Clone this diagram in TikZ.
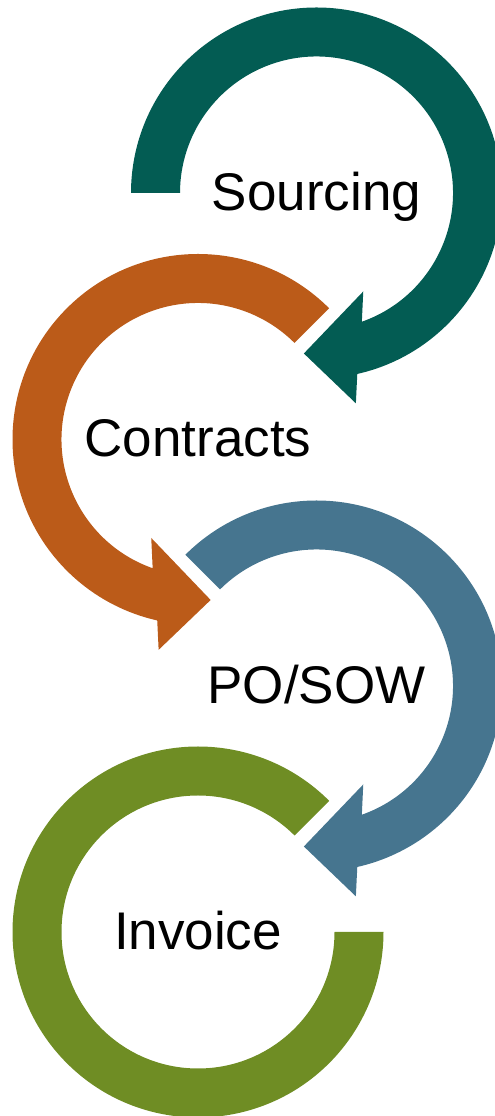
\documentclass[tikz,border=0pt]{standalone}
\usepackage{fontspec}
\setmainfont{Liberation Sans}
\usepackage{tikz}
\definecolor{sourcingcol}{RGB}{3,92,83}
\definecolor{contractcol}{RGB}{187,91,25}
\definecolor{pocol}{RGB}{70,117,143}
\definecolor{invoicecol}{RGB}{111,141,36}
\tikzset{
  steplabel/.style={anchor=base, font=\fontsize{53}{60}\selectfont, text=black}
}

\begin{document}
\begin{tikzpicture}[x=1pt, y=1pt]
        \useasboundingbox (0,0) rectangle (495,1116);

        % Sourcing arrow (clockwise)
        \begin{scope}[shift={(316.5,923)}]
        \fill[sourcingcol] (180:185.5) arc[start angle=180, end angle=-77.3, radius=185.5]
            -- (-79.4:214) -- (-94.5:161) -- (-64.6:109) -- (-70.6:136.5)
            arc[start angle=-70.6, end angle=180, radius=136.5] -- cycle;
        \end{scope}
        \node[steplabel] (sourcing) at (316.5,905.5) {Sourcing};

        % Contracts arrow (counter clockwise)
        \begin{scope}[shift={(198,676.5)}]
        \fill[contractcol] (45:185.5) arc[start angle=45, end angle=257.3, radius=185.5]
            -- (259.4:214) -- (274.5:161) -- (244.6:109) -- (250.6:136.5)
            arc[start angle=250.6, end angle=45, radius=136.5] -- cycle;
        \end{scope}
        \node[steplabel] (contracts) at (198,659) {Contracts};

        % PO/SOW arrow (clockwise)
        \begin{scope}[shift={(316.5,430)}]
        \fill[pocol] (135:185.5) arc[start angle=135, end angle=-77.3, radius=185.5]
            -- (-79.4:214) -- (-94.5:161) -- (-64.6:109) -- (-70.6:136.5)
            arc[start angle=-70.6, end angle=135, radius=136.5] -- cycle;
        \end{scope}
        \node[steplabel] (posow) at (316.5,412.5) {PO/SOW};

        % Invoice ring (no head)
        \begin{scope}[shift={(198,184)}]
        \fill[invoicecol] (45:185.5) arc[start angle=45, end angle=360, radius=185.5]
            -- (0:136.5)
            arc[start angle=360, end angle=45, radius=136.5] -- cycle;
        \end{scope}
        \node[steplabel] (invoice) at (198,166.5) {Invoice};
    \end{tikzpicture}
\end{document}
